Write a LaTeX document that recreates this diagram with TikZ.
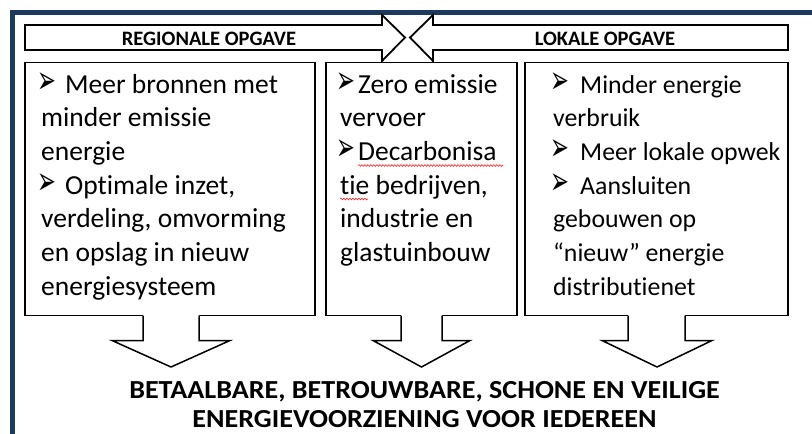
\documentclass[tikz,border=0pt]{standalone}
\usepackage{fontspec}
\usepackage{graphicx}
\setmainfont{Carlito}[Ligatures=NoCommon]
\newfontfamily\dvfont{DejaVu Sans}
\usetikzlibrary{decorations.pathmorphing}
\definecolor{frameblue}{RGB}{28,58,94}
\newcommand\bulglyph{\raisebox{0pt}[18pt][0pt]{\scalebox{0.75}[1.3]{\dvfont\fontsize{30}{30}\selectfont ➢}}}
\newcommand\bulat[1]{\makebox[#1][l]{\bulglyph}}
\tikzset{
  boxline/.style={draw=black, line width=1.8pt, fill=white},
  toparrow/.style={draw=black, line width=1.8pt, fill=white, line join=miter},
  downarrow/.style={draw=black, line width=1.5pt, line join=miter},
  bodytext/.style={anchor=base west, inner sep=0pt, font=\fontsize{27.5}{33}\selectfont},
  smalltext/.style={anchor=base west, inner sep=0pt, font=\fontsize{25.8}{33}\selectfont},
  headtext/.style={anchor=base, inner sep=0pt, font=\bfseries\fontsize{20.5}{24}\selectfont},
  goaltext/.style={anchor=base, inner sep=0pt, font=\bfseries\fontsize{26}{29}\selectfont},
  squiggle/.style={draw=red!85!white, line width=0.6pt, decorate, decoration={snake, amplitude=0.9pt, segment length=3pt}}
}
\begin{document}
\begin{tikzpicture}[x=1pt,y=-1pt]
\useasboundingbox (0,0) rectangle (812,434);
% frame
\fill[frameblue] (10,9.5) rectangle (812,14.5);
\fill[frameblue] (10,9.5) rectangle (15,434);
% top arrows
\draw[toparrow] (25,25) -- (382,25) -- (382,15) -- (405,37.5) -- (382,61) -- (382,50) -- (25,50) -- cycle;
\draw[toparrow] (788,25) -- (433,25) -- (433,15) -- (410,37.5) -- (433,61) -- (433,50) -- (788,50) -- cycle;
\node[headtext] (hreg) at (209,45) {REGIONALE OPGAVE};
\node[headtext] (hlok) at (605,45) {LOKALE OPGAVE};
% boxes
\draw[boxline] (25,62.5) rectangle (315,315.5);
\draw[boxline] (326,62.5) rectangle (517,315.5);
\draw[boxline] (525,62.5) rectangle (788,315.5);
% down arrows
\foreach \n/\sl/\sr/\hl/\hr/\tx in {1/143/199/112/230/171, 2/401/442/373/470/421.5, 3/628/685/602/712/657}{
  \fill[white] (\sl,311) -- (\sl,340.5) -- (\hl,340.5) -- (\tx,367) -- (\hr,340.5) -- (\sr,340.5) -- (\sr,311) -- cycle;
  \draw[downarrow] (\sl,315.5) -- (\sl,340.5) -- (\hl,340.5) -- (\tx,367) -- (\hr,340.5) -- (\sr,340.5) -- (\sr,315.5);
}
% box 1 text
\node[bodytext] (t1a) at (37,93) {\bulat{28pt}Meer bronnen met};
\node[bodytext] (t1b) at (41,126.7) {minder emissie};
\node[bodytext] (t1c) at (41,160.4) {energie};
\node[bodytext] (t1d) at (37,194.1) {\bulat{28pt}Optimale inzet,};
\node[bodytext] (t1e) at (41,227.8) {verdeling, omvorming};
\node[bodytext] (t1f) at (41,261.5) {en opslag in nieuw};
\node[bodytext] (t1g) at (41,295.2) {energiesysteem};
% box 2 text
\node[bodytext] (t2a) at (336,93) {\bulat{22pt}Zero emissie};
\node[bodytext] (t2b) at (340,126.7) {vervoer};
\node[bodytext] (t2c) at (336,160.4) {\bulat{22pt}Decarbonisa};
\node[bodytext] (t2d) at (340,194.1) {tie bedrijven,};
\node[bodytext] (t2e) at (340,227.8) {industrie en};
\node[bodytext] (t2f) at (340,261.5) {glastuinbouw};
\draw[squiggle] (358,165.5) -- (503,165.5);
\draw[squiggle] (340,199) -- (368,199);
% box 3 text
\node[smalltext] (t3a) at (550,93) {\bulat{30pt}Minder energie};
\node[smalltext] (t3b) at (553,126.7) {verbruik};
\node[smalltext] (t3c) at (550,160.4) {\bulat{30pt}Meer lokale opwek};
\node[smalltext] (t3d) at (550,194.1) {\bulat{30pt}Aansluiten};
\node[smalltext] (t3e) at (553,227.8) {gebouwen op};
\node[smalltext] (t3f) at (553,261.5) {“nieuw” energie};
\node[smalltext] (t3g) at (553,295.2) {distributienet};
% goal text
\node[goaltext] (g1) at (424.5,398) {\scalebox{1.08}[1]{BETAALBARE, BETROUWBARE, SCHONE EN VEILIGE}};
\node[goaltext] (g2) at (424.5,427) {\scalebox{1.08}[1]{ENERGIEVOORZIENING VOOR IEDEREEN}};
\end{tikzpicture}
\end{document}
